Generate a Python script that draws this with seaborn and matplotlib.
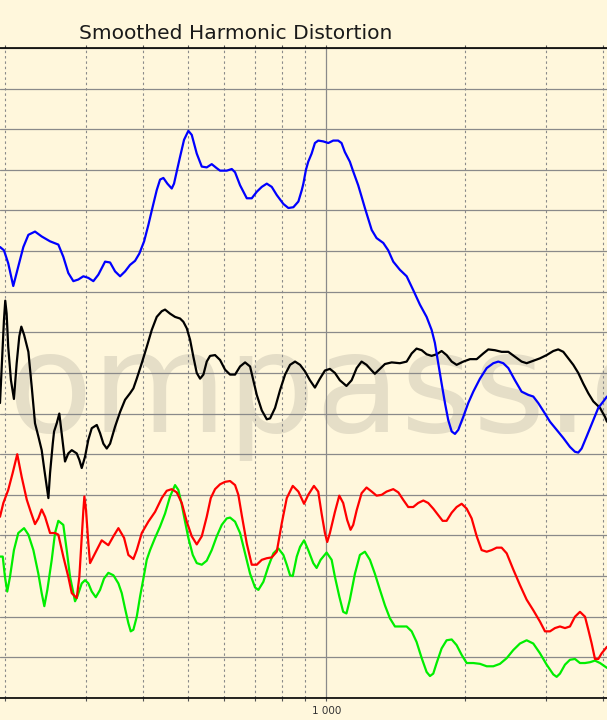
import numpy as np
import pandas as pd
import matplotlib
matplotlib.use("Agg")
import matplotlib.pyplot as plt
import seaborn as sns

# Smoothed harmonic distortion (Hz, dB)
blue_freq = [195.2, 199.1, 203.4, 208.6, 213.9, 219.4, 225.0, 232.6, 240.5, 250.8,
             261.4, 268.0, 274.8, 281.8, 288.9, 296.3, 303.8, 311.5, 319.4, 330.3,
             338.7, 347.3, 356.1, 365.1, 374.3, 383.8, 392.2, 401.6, 410.2, 419.4,
             427.8, 435.0, 442.3, 451.2, 461.2, 466.5, 472.9, 480.8, 490.5, 501.2,
             509.8, 522.7, 536.0, 549.5, 563.4, 577.8, 587.4, 607.4, 622.9, 633.2,
             649.3, 671.5, 688.4, 705.9, 723.8, 742.2, 760.9, 780.2, 806.5, 827.0,
             847.9, 869.4, 884.3, 891.4, 902.9, 913.4, 929.0, 944.5, 960.3, 984.6,
             1010, 1035, 1061, 1079, 1097, 1125, 1144, 1173, 1193, 1213,
             1233, 1255, 1286, 1330, 1363, 1398, 1445, 1495, 1545, 1598,
             1652, 1694, 1722, 1751, 1781, 1811, 1841, 1873, 1904, 1936,
             1985, 2035, 2087, 2158, 2232, 2307, 2365, 2425, 2487, 2571,
             2658, 2748, 2818, 2889, 2988, 3064, 3168, 3275, 3386, 3472,
             3530, 3590, 3682, 3806, 3902, 4002, 4076]
blue_db = [55.5, 55.1, 53.5, 50.7, 53.1, 55.5, 57.0, 57.4, 56.8, 56.2,
           55.8, 54.3, 52.3, 51.3, 51.5, 51.9, 51.7, 51.3, 52.1, 53.7,
           53.6, 52.5, 51.9, 52.5, 53.3, 53.8, 54.7, 56.2, 58.2, 60.5,
           62.5, 63.8, 64.0, 63.3, 62.7, 63.3, 64.8, 66.6, 68.7, 69.8,
           69.3, 67.0, 65.4, 65.3, 65.7, 65.2, 64.9, 64.9, 65.1, 64.7,
           63.1, 61.5, 61.5, 62.3, 62.9, 63.3, 62.9, 61.9, 60.8, 60.3,
           60.4, 61.1, 62.5, 63.3, 65.0, 66.0, 67.0, 68.3, 68.6, 68.5,
           68.3, 68.6, 68.6, 68.3, 67.2, 66.0, 64.8, 63.1, 61.7, 60.3,
           59.0, 57.6, 56.6, 56.0, 55.1, 53.7, 52.7, 51.9, 50.2, 48.4,
           46.9, 45.3, 43.7, 41.2, 38.7, 36.3, 34.2, 32.8, 32.5, 33.0,
           34.6, 36.3, 37.7, 39.3, 40.6, 41.2, 41.4, 41.2, 40.6, 39.1,
           37.7, 37.3, 37.1, 36.3, 35.0, 34.0, 33.0, 32.0, 30.9, 30.3,
           30.2, 30.7, 32.2, 34.2, 35.7, 36.5, 37.1]

black_freq = [195.2, 197.9, 199.1, 200.4, 201.8, 203.4, 206.2, 209.3, 212.2, 215.0,
              217.2, 220.2, 225.0, 228.8, 232.6, 236.5, 240.5, 243.7, 246.7, 248.7,
              250.8, 254.2, 255.9, 259.3, 262.7, 265.8, 270.3, 274.8, 279.6, 286.6,
              290.4, 293.9, 298.8, 303.8, 309.0, 316.9, 322.1, 327.5, 333.1, 338.7,
              347.3, 356.1, 365.1, 374.3, 380.6, 387.1, 396.9, 406.9, 417.3, 427.8,
              438.7, 446.0, 457.3, 468.9, 480.8, 488.8, 497.2, 505.5, 513.9, 522.7,
              531.5, 540.4, 549.5, 558.7, 572.9, 587.4, 602.3, 617.6, 633.2, 649.3,
              665.8, 682.6, 694.0, 705.9, 723.8, 742.2, 754.5, 773.6, 793.3, 813.4,
              834.0, 855.1, 876.8, 898.4, 921.2, 944.5, 968.4, 993.0, 1018, 1044,
              1070, 1106, 1135, 1164, 1193, 1223, 1255, 1275, 1308, 1341,
              1387, 1445, 1495, 1533, 1571, 1612, 1652, 1694, 1737, 1781,
              1826, 1873, 1920, 1985, 2053, 2123, 2194, 2250, 2326, 2405,
              2487, 2571, 2658, 2726, 2818, 2914, 3013, 3115, 3193, 3275,
              3358, 3443, 3530, 3619, 3712, 3806, 3936, 4035, 4076]
black_db = [36.3, 43.2, 46.5, 48.9, 47.3, 43.2, 39.1, 36.8, 41.2, 44.5,
            45.7, 44.7, 42.6, 38.3, 33.8, 32.2, 30.5, 28.1, 26.0, 24.6,
            27.7, 31.3, 32.8, 33.8, 35.0, 32.6, 29.1, 30.1, 30.5, 30.1,
            29.3, 28.3, 29.7, 31.8, 33.2, 33.6, 32.6, 31.3, 30.7, 31.3,
            33.4, 35.2, 36.7, 37.5, 38.1, 39.3, 41.2, 43.2, 45.3, 46.9,
            47.6, 47.8, 47.3, 46.9, 46.7, 46.3, 45.5, 44.1, 42.0, 40.0,
            39.3, 39.8, 41.4, 42.1, 42.2, 41.6, 40.4, 39.8, 39.8, 40.8,
            41.3, 40.8, 39.1, 37.3, 35.4, 34.3, 34.4, 35.7, 37.9, 39.8,
            41.0, 41.4, 41.0, 40.2, 39.1, 38.2, 39.3, 40.3, 40.5, 40.0,
            39.1, 38.4, 39.1, 40.6, 41.4, 41.0, 40.3, 39.9, 40.5, 41.1,
            41.3, 41.2, 41.4, 42.4, 43.0, 42.8, 42.3, 42.1, 42.3, 42.7,
            42.2, 41.4, 41.0, 41.4, 41.7, 41.7, 42.4, 42.9, 42.8, 42.6,
            42.6, 42.0, 41.4, 41.2, 41.5, 41.8, 42.2, 42.7, 42.9, 42.6,
            41.8, 41.0, 40.0, 38.7, 37.5, 36.5, 35.7, 34.6, 34.0]

red_freq = [195.2, 198.5, 203.4, 208.0, 212.8, 217.6, 223.2, 227.7, 232.6, 236.5,
            240.5, 244.6, 250.8, 257.1, 261.4, 268.0, 274.8, 279.6, 286.6, 290.4,
            293.9, 296.3, 297.8, 300.3, 303.8, 306.4, 314.2, 324.8, 335.8, 344.4,
            353.1, 363.3, 371.2, 380.6, 387.1, 396.9, 410.2, 424.2, 438.7, 449.8,
            461.2, 472.9, 484.9, 497.2, 509.8, 522.7, 536.0, 549.5, 560.7, 572.9,
            587.4, 602.3, 617.6, 633.2, 643.8, 654.8, 671.5, 688.4, 705.9, 723.8,
            742.2, 760.9, 780.2, 800.0, 820.3, 845.3, 869.4, 894.5, 913.4, 939.8,
            960.3, 976.6, 993.0, 1004.5, 1018, 1044, 1067, 1088, 1110, 1129,
            1144, 1164, 1193, 1223, 1255, 1286, 1319, 1352, 1398, 1434,
            1469, 1507, 1545, 1584, 1625, 1665, 1708, 1751, 1790, 1826,
            1873, 1920, 1969, 2019, 2070, 2123, 2176, 2232, 2288, 2346,
            2405, 2467, 2550, 2636, 2726, 2818, 2914, 2988, 3064, 3141,
            3221, 3303, 3386, 3472, 3560, 3651, 3712, 3775, 3838, 3902,
            3969, 4076]
red_db = [22.3, 24.0, 25.6, 27.7, 30.0, 27.2, 24.4, 22.9, 21.4, 22.1,
          23.2, 22.3, 20.3, 20.3, 20.1, 17.4, 14.9, 12.9, 12.3, 14.9,
          19.9, 23.1, 24.8, 23.1, 19.0, 16.6, 17.8, 19.4, 18.8, 19.9,
          20.9, 19.7, 17.6, 17.1, 18.2, 20.3, 21.7, 22.9, 24.6, 25.5,
          25.7, 25.3, 24.0, 21.7, 19.9, 18.9, 19.9, 22.3, 24.6, 25.7,
          26.3, 26.6, 26.7, 26.2, 25.0, 22.5, 19.0, 16.4, 16.4, 17.0,
          17.2, 17.3, 18.0, 21.5, 24.6, 26.1, 25.4, 23.9, 25.0, 26.1,
          25.4, 22.7, 20.3, 19.2, 20.3, 22.9, 24.9, 24.0, 21.9, 20.7,
          21.3, 23.1, 25.2, 25.9, 25.4, 24.9, 25.0, 25.4, 25.7, 25.3,
          24.4, 23.5, 23.5, 24.0, 24.3, 24.0, 23.3, 22.5, 21.8, 21.8,
          22.8, 23.5, 23.9, 23.3, 22.1, 19.9, 18.2, 18.0, 18.2, 18.5,
          18.5, 17.8, 15.8, 13.9, 12.1, 10.8, 9.4, 8.2, 8.2, 8.6,
          8.8, 8.6, 8.8, 10.0, 10.6, 10.0, 8.4, 6.7, 4.8, 4.8,
          5.5, 6.3]

green_freq = [195.2, 197.9, 200.1, 202.4, 205.2, 209.3, 213.9, 220.2, 225.0, 230.7,
              236.5, 240.5, 243.7, 247.4, 252.9, 257.1, 261.4, 268.0, 272.6, 277.2,
              281.8, 284.2, 287.5, 293.9, 298.8, 303.8, 309.0, 315.3, 322.1, 328.6,
              335.8, 344.4, 353.1, 359.1, 365.1, 371.2, 375.6, 380.6, 387.1, 393.6,
              400.2, 406.9, 413.8, 424.2, 435.0, 446.0, 457.3, 468.9, 476.7, 484.9,
              493.0, 501.2, 512.4, 522.7, 536.0, 549.5, 563.4, 577.8, 592.4, 607.4,
              617.6, 633.2, 649.3, 665.8, 682.6, 699.9, 711.6, 729.7, 748.2, 767.1,
              786.5, 806.5, 820.3, 834.0, 845.3, 862.4, 876.8, 894.5, 913.4, 936.6,
              952.5, 971.8, 1001.4, 1027, 1044, 1067, 1088, 1106, 1125, 1154,
              1183, 1213, 1244, 1275, 1308, 1341, 1375, 1410, 1457, 1495,
              1533, 1571, 1612, 1652, 1680, 1708, 1737, 1781, 1826, 1873,
              1920, 1969, 2019, 2087, 2158, 2232, 2307, 2385, 2467, 2550,
              2636, 2726, 2818, 2914, 3013, 3115, 3168, 3221, 3303, 3386,
              3472, 3560, 3651, 3743, 3838, 3936, 4076]
green_db = [17.4, 17.4, 14.9, 13.1, 14.9, 18.2, 20.3, 20.9, 20.1, 18.2,
            15.3, 12.9, 11.3, 13.3, 17.0, 20.3, 21.8, 21.3, 18.2, 14.9,
            12.9, 11.9, 12.5, 14.1, 14.5, 14.1, 13.1, 12.4, 13.3, 14.7,
            15.4, 15.1, 14.1, 12.9, 11.0, 9.2, 8.2, 8.4, 10.0, 12.5,
            14.7, 17.0, 18.2, 19.7, 21.1, 22.7, 24.8, 26.2, 25.6, 23.8,
            21.7, 19.7, 17.6, 16.6, 16.4, 16.9, 18.2, 19.9, 21.3, 22.1,
            22.2, 21.7, 20.3, 17.8, 15.3, 13.6, 13.3, 14.3, 16.2, 17.8,
            18.4, 17.6, 16.4, 15.1, 15.0, 17.4, 18.6, 19.4, 18.2, 16.6,
            16.0, 17.0, 17.9, 17.0, 14.9, 12.5, 10.6, 10.4, 12.1, 15.3,
            17.6, 18.0, 17.0, 15.3, 13.3, 11.4, 9.8, 8.8, 8.8, 8.8,
            8.2, 6.9, 4.9, 3.2, 2.7, 3.0, 4.3, 6.1, 7.1, 7.2,
            6.5, 5.3, 4.3, 4.3, 4.2, 3.9, 3.9, 4.2, 4.9, 5.9,
            6.7, 7.1, 6.7, 5.5, 4.1, 2.9, 2.6, 3.0, 4.1, 4.7,
            4.8, 4.3, 4.3, 4.4, 4.6, 4.3, 3.7]

minor_freqs = [200, 300, 400, 500, 600, 700, 800, 900, 2000, 3000, 4000]
major_freqs = [1000]
major_labels = ["1 000"]
level_grid = list(range(0, 85, 5))

cream = "#fff7dc"

sns.set_style("white")
plt.rcParams["font.family"] = ["DejaVu Sans"]

fig = plt.figure(figsize=(6.07, 7.2), dpi=100, facecolor=cream)
ax = fig.add_axes([0.0, 0.0306, 1.0, 0.9028])
ax.set_facecolor(cream)

# watermark: inside the axes, under the grid and the curves
ax.text(0.012, 0.4, "ompass.c", transform=fig.transFigure, fontsize=100,
        color="#e5dec7", family=["DejaVu Sans"], va="baseline", ha="left",
        zorder=0.2, clip_on=False)

curves = [
    ("H2", green_freq, green_db, "#00ee00"),
    ("H3", red_freq, red_db, "#ff0000"),
    ("THD", black_freq, black_db, "#000000"),
    ("Fund", blue_freq, blue_db, "#0000ff"),
]
for name, f, d, c in curves:
    df = pd.DataFrame({"freq": f, "db": d})
    sns.lineplot(data=df, x="freq", y="db", color=c, linewidth=1.6,
                 estimator=None, sort=False, ax=ax, zorder=3)

ax.set_xscale("log")
ax.set_xlim(195.2, 4076)
ax.set_ylim(0, 80)

ax.set_xticks(major_freqs)
ax.set_xticklabels(major_labels)
ax.set_xticks(minor_freqs, minor=True)
ax.xaxis.set_minor_formatter(matplotlib.ticker.NullFormatter())
ax.set_yticks(level_grid)
ax.set_yticklabels([])

ax.grid(axis="y", which="major", color="#8a8a8a", linewidth=0.9, linestyle="-")
ax.grid(axis="x", which="major", color="#8a8a8a", linewidth=0.9, linestyle="-")
ax.grid(axis="x", which="minor", color="#8a8a8a", linewidth=0.8,
        linestyle=(0, (2.2, 2.6)))
ax.set_axisbelow(True)

ax.tick_params(axis="x", which="both", direction="out", length=2.5, width=0.8,
               color="#555555", top=True, bottom=True, labelsize=7.5,
               labelcolor="#333333", pad=3)
ax.tick_params(axis="y", which="both", left=False, right=False)

for side in ["left", "right"]:
    ax.spines[side].set_visible(False)
for side in ["top", "bottom"]:
    ax.spines[side].set_color("black")
    ax.spines[side].set_linewidth(1.2)

ax.set_xlabel("")
ax.set_ylabel("")
fig.text(0.13, 0.9465, "Smoothed Harmonic Distortion", fontsize=14.6,
         color="#1a1a1a", ha="left", va="baseline")

fig.savefig("out.png", dpi=100, facecolor=cream)
